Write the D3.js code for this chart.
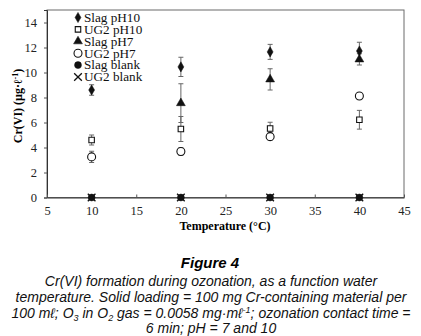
<!DOCTYPE html>
<html><head><meta charset="utf-8">
<script src="https://cdn.jsdelivr.net/npm/d3@7"></script>
<style>body{margin:0;background:#fff}svg{display:block}</style>
</head><body>
<svg id="c" width="421" height="336"></svg>
<script>
const temps = [10, 20, 30, 40];
const slagPH10 = [8.6, 10.45, 11.65, 11.72];
const slagPH10Err = [0.42, 0.77, 0.6, 0.7];
const ug2PH10 = [4.6, 5.48, 5.52, 6.22];
const ug2PH10Err = [0.4, 1.0, 0.5, 0.75];
const slagPH7 = [null, 7.55, 9.45, 11.05];
const slagPH7Err = [0, 1.55, 0.85, 0.45];
const ug2PH7 = [3.25, 3.68, 4.87, 8.12];
const ug2PH7Err = [0.45, 0.3, 0.3, 0.15];
const slagBlank = [0, 0, 0, 0];
const ug2Blank = [0, 0, 0, 0];
const xTicks = [5, 10, 15, 20, 25, 30, 35, 40, 45];
const yTicks = [0, 2, 4, 6, 8, 10, 12, 14];
const seriesNames = ["Slag pH10", "UG2 pH10", "Slag pH7", "UG2 pH7", "Slag blank", "UG2 blank"];
const caption = ["Cr(VI) formation during ozonation, as a function water",
  "temperature. Solid loading = 100 mg Cr-containing material per"];

const svg = d3.select("#c");
const L = 47, R = 404, T = 10, B = 197.5;
const x = d3.scaleLinear().domain([5, 45]).range([L, R]);
const y = d3.scaleLinear().domain([0, 15]).range([B, T]);
const serif = "'Liberation Serif','Times New Roman',serif";
const sans = "'Liberation Sans',Arial,sans-serif";

// frame
svg.append("rect").attr("x", L).attr("y", T).attr("width", R - L).attr("height", B - T)
  .attr("fill", "none").attr("stroke", "#6b6b6b").attr("stroke-width", 1);

const ya = svg.append("g").attr("transform", `translate(${L},0)`)
  .call(d3.axisLeft(y).tickValues(yTicks).tickSize(3).tickPadding(7));
const xa = svg.append("g").attr("transform", `translate(0,${B})`)
  .call(d3.axisBottom(x).tickValues(xTicks).tickSizeInner(-3).tickSizeOuter(0).tickPadding(9));
[ya, xa].forEach(a => {
  a.select(".domain").attr("stroke", "#333");
  a.selectAll(".tick line").attr("stroke", "#555");
  a.selectAll("text").attr("font-family", serif).attr("font-size", 12.5).attr("fill", "#222");
});

const series = [
  {vals: slagPH10, err: slagPH10Err, sym: d3.symbolDiamond, size: 30, fill: "#111"},
  {vals: ug2PH10, err: ug2PH10Err, sym: d3.symbolSquare, size: 30, fill: "#fff"},
  {vals: slagPH7, err: slagPH7Err, sym: d3.symbolTriangle, size: 34, fill: "#111"},
  {vals: ug2PH7, err: ug2PH7Err, sym: d3.symbolCircle, size: 50, fill: "#fff"},
  {vals: slagBlank, err: null, sym: d3.symbolCircle, size: 38, fill: "#111"},
  {vals: ug2Blank, err: null, sym: d3.symbolTimes, size: 40, fill: "none"}
];

// error bars
series.forEach(s => {
  if (!s.err) return;
  temps.forEach((t, i) => {
    const v = s.vals[i]; if (v == null || !s.err[i]) return;
    const g = svg.append("g").attr("stroke", "#666").attr("stroke-width", 1);
    g.append("line").attr("x1", x(t)).attr("x2", x(t)).attr("y1", y(v - s.err[i])).attr("y2", y(v + s.err[i]));
    [v - s.err[i], v + s.err[i]].forEach(e => g.append("line")
      .attr("x1", x(t) - 2.5).attr("x2", x(t) + 2.5).attr("y1", y(e)).attr("y2", y(e)));
  });
});

// markers
function drawSym(s, cx, cy) {
  const p = svg.append("path").attr("d", d3.symbol().type(s.sym).size(s.size)())
    .attr("transform", `translate(${cx},${cy})`);
  if (s.sym === d3.symbolTimes) p.attr("fill", "none").attr("stroke", "#111").attr("stroke-width", 1.3);
  else p.attr("fill", s.fill).attr("stroke", "#111").attr("stroke-width", s.fill === "#fff" ? 1.1 : 0.5);
}
series.forEach(s => temps.forEach((t, i) => {
  if (s.vals[i] != null) drawSym(s, x(t), y(s.vals[i]));
}));

// legend
seriesNames.forEach((n, i) => {
  const cy = 17.5 + i * 11.9;
  drawSym(series[i], 78, cy);
  svg.append("text").attr("x", 84).attr("y", cy + 4.3).text(n)
    .attr("font-family", serif).attr("font-size", 13.2).attr("fill", "#111");
});

// axis titles
svg.append("text").attr("x", 225).attr("y", 230).attr("text-anchor", "middle")
  .attr("font-family", serif).attr("font-weight", "bold").attr("font-size", 12).text("Temperature (°C)");
const yl = svg.append("text").attr("transform", "translate(22,106) rotate(-90)").attr("text-anchor", "middle")
  .attr("font-family", serif).attr("font-weight", "bold").attr("font-size", 12);
yl.append("tspan").text("Cr(VI) (µg·ℓ");
yl.append("tspan").attr("dy", -4).attr("font-size", 8).text("-1");
yl.append("tspan").attr("dy", 4).text(")");

// caption
svg.append("text").attr("x", 210).attr("y", 268).attr("text-anchor", "middle")
  .attr("font-family", sans).attr("font-weight", "bold").attr("font-style", "italic").attr("font-size", 15).text("Figure 4");
const cap = (yy) => svg.append("text").attr("x", 211).attr("y", yy).attr("text-anchor", "middle")
  .attr("font-family", sans).attr("font-style", "italic").attr("font-size", 14).attr("fill", "#111");
cap(286).text(caption[0]);
cap(302).text(caption[1]);
const l3 = cap(318);
l3.append("tspan").text("100 mℓ; O");
l3.append("tspan").attr("dy", 3).attr("font-size", 9).text("3");
l3.append("tspan").attr("dy", -3).text(" in O");
l3.append("tspan").attr("dy", 3).attr("font-size", 9).text("2");
l3.append("tspan").attr("dy", -3).text(" gas = 0.0058 mg·mℓ");
l3.append("tspan").attr("dy", -5).attr("font-size", 9).text("-1");
l3.append("tspan").attr("dy", 5).text("; ozonation contact time =");
cap(333).text("6 min; pH = 7 and 10");
</script>
</body></html>
